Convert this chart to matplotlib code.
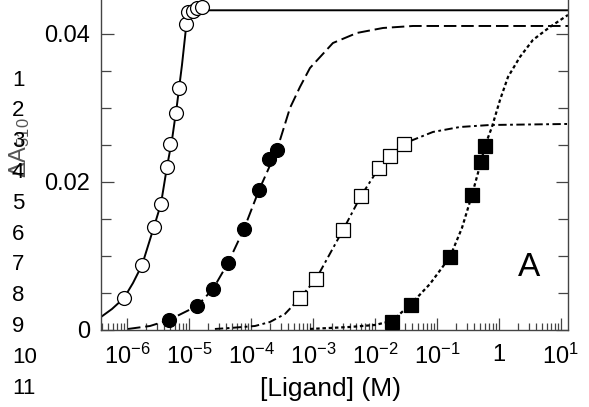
import matplotlib.pyplot as plt
import matplotlib.ticker as ticker

plt.rcParams['font.family'] = ['Liberation Sans', 'DejaVu Sans']
plt.rcParams['mathtext.fontset'] = 'custom'
plt.rcParams['mathtext.rm'] = 'Liberation Sans'
plt.rcParams['mathtext.it'] = 'Liberation Sans:italic'
plt.rcParams['lines.scale_dashes'] = False

# ---- data (concentration in M, delta A510) ----
# open circles + solid fit
conc_a = [8.95e-7, 1.75e-6, 2.72e-6, 3.53e-6, 4.41e-6, 4.94e-6, 6.17e-6,
          6.90e-6, 8.95e-6, 9.64e-6, 1.16e-5, 1.35e-5, 1.62e-5]
dA_a = [0.00432, 0.00878, 0.01392, 0.01703, 0.02203, 0.02514, 0.02932,
        0.0327, 0.04135, 0.04297, 0.0431, 0.04351, 0.04365]
fit_a_conc = [3.81e-7, 5.73e-7, 8.95e-7, 1.25e-6, 1.75e-6, 2.72e-6, 3.53e-6,
              4.41e-6, 5.32e-6, 6.40e-6, 7.71e-6, 8.95e-6, 1.0e-5, 1.16e-5, 13.0]
fit_a_dA = [0.00176, 0.00284, 0.00432, 0.00635, 0.00878, 0.01392, 0.01703,
            0.0220, 0.02568, 0.0304, 0.0358, 0.0408, 0.0428, 0.0432, 0.0432]

# filled circles + long dashed fit
conc_b = [4.75e-6, 1.35e-5, 2.44e-5, 4.26e-5, 7.71e-5, 1.35e-4, 1.95e-4, 2.62e-4]
dA_b = [0.00135, 0.00324, 0.00554, 0.00905, 0.01365, 0.01892, 0.02311, 0.02432]
fit_b_conc = [1.04e-6, 2.35e-6, 4.75e-6, 1.35e-5, 2.44e-5, 4.26e-5, 7.71e-5,
              1.35e-4, 2.62e-4, 4.26e-4, 6.17e-4, 8.95e-4, 2.10e-3, 5.13e-3,
              1.35e-2, 4.10e-2, 13.0]
fit_b_dA = [0.00014, 0.00054, 0.00135, 0.00324, 0.00554, 0.00905, 0.01365,
            0.01892, 0.02432, 0.0300, 0.03284, 0.0354, 0.03878, 0.04014,
            0.04081, 0.04108, 0.04108]

# open squares + dash-dot fit
conc_c = [6.17e-4, 1.12e-3, 3.05e-3, 5.94e-3, 1.16e-2, 1.75e-2, 2.94e-2]
dA_c = [0.00432, 0.00689, 0.01351, 0.01811, 0.02189, 0.02351, 0.02514]
fit_c_conc = [2.62e-5, 4.58e-5, 1.16e-4, 2.02e-4, 3.53e-4, 6.17e-4, 1.12e-3,
              3.05e-3, 5.94e-3, 1.16e-2, 1.75e-2, 2.94e-2, 4.10e-2, 8.62e-2,
              0.235, 0.716, 13.0]
fit_c_dA = [0.00014, 0.00027, 0.00054, 0.00108, 0.00216, 0.00432, 0.00689,
            0.01351, 0.01811, 0.02189, 0.02351, 0.02514, 0.02568, 0.02676,
            0.02743, 0.0277, 0.02784]

# filled squares + dotted fit
conc_d = [1.88e-2, 3.81e-2, 0.162, 0.367, 0.513, 0.594]
dA_d = [0.00108, 0.00338, 0.00986, 0.01824, 0.0227, 0.02486]
fit_d_conc = [8.95e-4, 3.95e-3, 1.0e-2, 1.88e-2, 3.81e-2, 7.71e-2, 0.162,
              0.253, 0.367, 0.513, 0.594, 0.771, 1.04, 1.40, 2.18, 3.53,
              6.65, 13.0]
fit_d_dA = [0.00014, 0.00041, 0.00068, 0.00122, 0.00351, 0.00622, 0.00986,
            0.01378, 0.01824, 0.0227, 0.02486, 0.02743, 0.03108, 0.03419,
            0.03689, 0.03919, 0.04095, 0.04257]

x_ticks = [1e-6, 1e-5, 1e-4, 1e-3, 1e-2, 1e-1, 1, 10]
x_labels = ['10$^{-6}$', '10$^{-5}$', '10$^{-4}$', '10$^{-3}$', '10$^{-2}$',
            '10$^{-1}$', '1', '10$^{1}$']
y_ticks = [0, 0.02, 0.04]
y_labels = ['0', '0.02', '0.04']

W, H = 589, 407
fig = plt.figure(figsize=(W / 100, H / 100), dpi=100)
ax = fig.add_axes([101 / W, 1 - 330 / H, (568 - 101) / W, 330 / H])

ax.plot(fit_a_conc, fit_a_dA, color='black', lw=1.4, zorder=2)
ax.plot(fit_b_conc, fit_b_dA, color='black', lw=1.4, dashes=(9, 3.5), zorder=2)
ax.plot(fit_c_conc, fit_c_dA, color='black', lw=1.4, dashes=(6, 2.5, 2, 2.5), zorder=2)
ax.plot(fit_d_conc, fit_d_dA, color='black', lw=1.6, dashes=(2.5, 2), zorder=2)

ms = 10
ax.plot(conc_a, dA_a, 'o', ms=ms, mfc='white', mec='black', mew=0.9, zorder=3)
ax.plot(conc_b, dA_b, 'o', ms=ms, mfc='black', mec='black', mew=0.9, zorder=3)
ax.plot(conc_c, dA_c, 's', ms=ms - 0.5, mfc='white', mec='black', mew=0.9, zorder=3)
ax.plot(conc_d, dA_d, 's', ms=ms - 0.5, mfc='black', mec='black', mew=0.9, zorder=3)

ax.set_xscale('log')
ax.set_xlim(3.81e-7, 13.0)
ax.set_ylim(0, 0.04459)

ax.xaxis.set_major_locator(ticker.FixedLocator(x_ticks))
ax.xaxis.set_major_formatter(ticker.FixedFormatter(x_labels))
ax.xaxis.set_minor_locator(ticker.LogLocator(base=10, subs=range(2, 10), numticks=20))
ax.xaxis.set_minor_formatter(ticker.NullFormatter())
ax.yaxis.set_major_locator(ticker.FixedLocator(y_ticks))
ax.yaxis.set_major_formatter(ticker.FixedFormatter(y_labels))
ax.yaxis.set_minor_locator(ticker.MultipleLocator(0.005))

axis_col = '#444444'
for side in ['left', 'bottom', 'right']:
    ax.spines[side].set_color(axis_col)
    ax.spines[side].set_linewidth(1.0)
ax.spines['top'].set_visible(False)

ax.tick_params(axis='both', which='both', direction='in', color=axis_col,
               width=0.9, labelsize=17, right=True, top=False)
ax.tick_params(axis='y', which='major', length=9, pad=8)
ax.tick_params(axis='y', which='minor', length=7)
ax.tick_params(axis='x', which='major', length=9, pad=10)
ax.tick_params(axis='x', which='minor', length=5)

fig.text(331 / W, 1 - 389 / H, '[Ligand] (M)', ha='center', va='center', fontsize=19)
fig.text(20 / W, 1 - 148 / H, r'$\Delta$A$_{510}$', rotation=90, ha='center',
         va='center', fontsize=17, color='#555555')
ax.text(529 / W, 1 - 268 / H, 'A', transform=fig.transFigure, ha='center',
        va='center', fontsize=24)

# scan line numbers down the left margin
for i in range(11):
    fig.text(12 / W, 1 - (80 + i * 30.8) / H, str(i + 1), ha='left',
             va='center', fontsize=16)

fig.savefig('out.png', dpi=100)
